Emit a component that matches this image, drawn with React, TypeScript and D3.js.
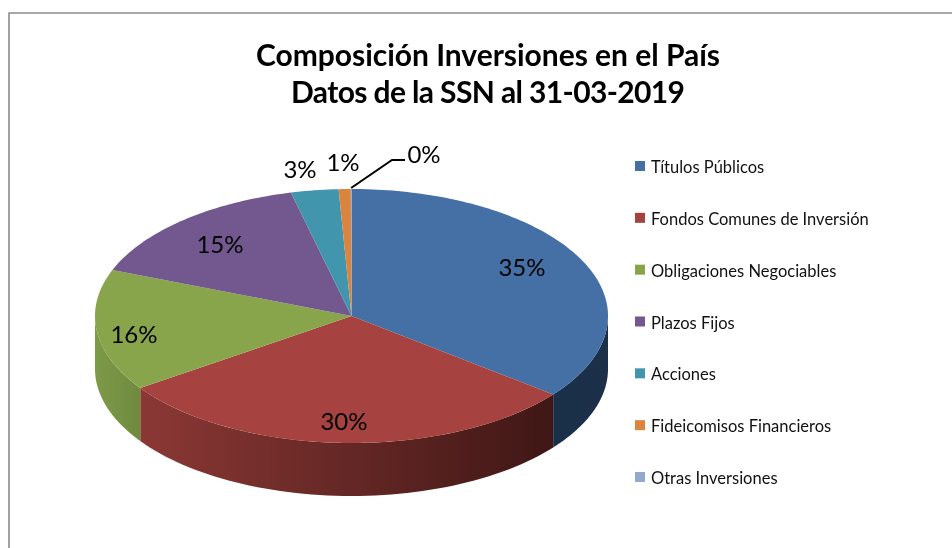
import React from "react";
import * as d3 from "d3";

const categories = ["Títulos Públicos","Fondos Comunes de Inversión","Obligaciones Negociables","Plazos Fijos","Acciones","Fideicomisos Financieros","Otras Inversiones"];
const values = [35.6,29.8,15.5,15.3,3.0,0.76,0.04];
const labels = ["35%","30%","16%","15%","3%","1%","0%"];
const colors = ["#4570a6","#a64340","#89a54c","#72588f","#4196ae","#db843d","#93a9cf"];
const titleLines = ["Composición Inversiones en el País","Datos de la SSN al 31-03-2019"];
const titleWidths = [464, 394];
const labelPos: [number,number][] = [[522,270],[344,424],[134,337],[220,247],[300,172],[343,165],[424,157]];

const W = 952, H = 548;
const cx = 351.5, cy = 316, rx = 256.5, ry = 127, depth = 53;
const FONT = "Lato, Carlito, Calibri, sans-serif";

const pt = (a: number, dy = 0): [number, number] => [cx + Math.sin(a) * rx, cy - Math.cos(a) * ry + dy];
const line = d3.line();

export default function App() {
  const arcs = d3.pie<number>().sort(null)(values);
  const legendY = d3.scalePoint<number>().domain(d3.range(categories.length)).range([167, 478]);
  const walls = arcs.map((a, i) => {
    const s = Math.max(a.startAngle, Math.PI / 2), e = Math.min(a.endAngle, 1.5 * Math.PI);
    if (e <= s) return null;
    const as = d3.range(0, 61).map(k => s + (e - s) * k / 60);
    const pts = [...as.map(t => pt(t)), ...as.slice().reverse().map(t => pt(t, depth))];
    return { i, d: line(pts)!, x0: d3.min(as, t => pt(t)[0])!, x1: d3.max(as, t => pt(t)[0])! };
  }).filter(Boolean) as {i:number;d:string;x0:number;x1:number}[];
  const wallStops: Record<number, [string,string]> = {0:["#1a2f49","#1c3048"],1:["#8b3835","#3f1715"],2:["#7d9a48","#6f8a3e"]};
  const faces = arcs.map(a => {
    const n = Math.max(2, Math.ceil((a.endAngle - a.startAngle) / 0.02));
    const pts = d3.range(0, n + 1).map(k => pt(a.startAngle + (a.endAngle - a.startAngle) * k / n));
    return line([[cx, cy], ...pts])! + "Z";
  });
  const lead = pt(arcs[6].startAngle + 0.001);
  return (
    <svg width={W} height={H} style={{position:"absolute",left:0,top:0,filter:"blur(0.4px)"}} fontFamily={FONT}>
      <defs>
        {walls.map(w => (
          <linearGradient key={w.i} id={`g${w.i}`} gradientUnits="userSpaceOnUse" x1={w.x0} x2={w.x1} y1={0} y2={0}>
            <stop offset="0" stopColor={wallStops[w.i][0]} />
            <stop offset="1" stopColor={wallStops[w.i][1]} />
          </linearGradient>
        ))}
      </defs>
      <rect x={0} y={0} width={W} height={H} fill="#fff" />
      <path d={line([[9, H],[9, 13],[W, 13]])!} fill="none" stroke="#8c8c8c" strokeWidth={1.6} />
      {titleLines.map((t, i) => (
        <text key={i} x={488} y={66 + i * 37} textAnchor="middle" fontSize={30} fontWeight={700} fill="#000" textLength={titleWidths[i]} lengthAdjust="spacing">{t}</text>
      ))}
      {walls.map(w => <path key={w.i} d={w.d} fill={`url(#g${w.i})`} />)}
      {faces.map((d, i) => <path key={i} d={d} fill={colors[i]} />)}
      <path d={line([[lead[0], lead[1]-1],[392,160],[405,160]])!} fill="none" stroke="#000" strokeWidth={2} />
      {labels.map((l, i) => (
        <text key={i} x={labelPos[i][0]} y={labelPos[i][1]} textAnchor="middle" fontSize={24} fill="#000" dominantBaseline="middle">{l}</text>
      ))}
      {categories.map((c, i) => (
        <g key={c}>
          <rect x={635} y={legendY(i)! - 6} width={10} height={10} fill={colors[i]} />
          <text x={651} y={legendY(i)! + 6} fontSize={16.5} fill="#111">{c}</text>
        </g>
      ))}
    </svg>
  );
}
